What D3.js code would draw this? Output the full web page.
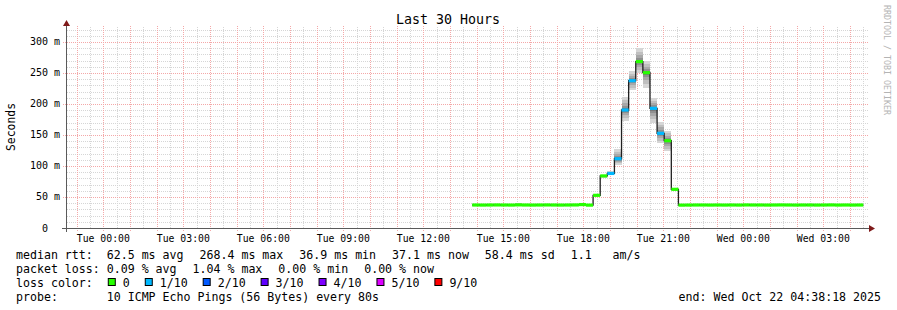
<!DOCTYPE html>
<html><head><meta charset="utf-8">
<script src="https://cdn.jsdelivr.net/npm/d3@7"></script>
<style>
html,body{margin:0;padding:0;background:#fff}
text{font-family:"DejaVu Sans Mono",monospace;white-space:pre}
</style>
</head><body>
<svg id="c" width="897" height="310"></svg>
<script>
// ---------- data ----------
const chartTitle = "Last 30 Hours";
const yAxisTitle = "Seconds";
const watermark = "RRDTOOL / TOBI OETIKER";
const startTime = "2025-10-20T22:38:18Z";
const endTime = "2025-10-22T04:38:18Z";
const dataStart = "2025-10-21T13:50:00Z";
const stepSeconds = 960;
const medianMs = [37.1,37.0,37.1,37.2,37.1,37.0,37.3,37.1,37.0,37.1,37.2,37.1,37.0,37.1,37.2,
  37.8,36.9,52.7,84.0,88.0,111.8,190.3,237.6,268.4,250.5,193.0,152.7,140.8,62.4,
  36.9,37.0,37.1,37.1,37.0,37.1,37.0,37.1,37.0,37.2,37.1,37.1,37.0,37.1,37.2,37.1,37.0,37.1,37.1,37.0,37.1,37.2,37.0,37.1,37.0,37.1];
const smokeLoMs = [36.6,36.5,36.6,36.7,36.6,36.5,36.7,36.6,36.5,36.6,36.7,36.6,36.5,36.6,36.7,
  36.9,36.5,51.5,81.0,85.0,101.6,173.0,222.6,250.0,226.0,169.0,136.6,124.0,60.0,
  36.4,36.5,36.6,36.6,36.5,36.6,36.5,36.6,36.5,36.7,36.6,36.6,36.5,36.6,36.7,36.6,36.5,36.6,36.6,36.5,36.6,36.7,36.5,36.6,36.5,36.6];
const smokeHiMs = [37.8,37.6,37.8,38.0,37.8,37.7,40.8,37.8,37.7,37.8,38.0,37.8,37.7,37.8,38.0,
  39.8,37.8,54.0,86.0,92.0,127.0,211.8,253.0,290.0,270.0,209.0,171.5,157.0,65.0,
  37.6,37.7,37.8,37.8,37.7,37.8,37.7,37.8,37.7,38.0,37.8,37.8,37.7,37.8,38.0,37.8,37.7,37.8,37.8,37.7,37.8,38.0,37.7,37.8,37.7,37.8];
const lossLevel = [0,0,0,0,0,0,0,0,0,0,0,0,0,0,0,
  0,0,0,0,1,1,1,1,0,0,1,1,0,0,
  0,0,0,0,0,0,0,0,0,0,0,0,0,0,0,0,0,0,0,0,0,0,0,0,0,0];
const yTicks = [0,50,100,150,200,250,300];
const yTickLabels = ["0  ","50 m","100 m","150 m","200 m","250 m","300 m"];
const lossLabels = ["0","1/10","2/10","3/10","4/10","5/10","9/10"];
const lossColors = ["#26ff00","#00b8ff","#0059ff","#5e00ff","#7e00ff","#dd00ff","#ff0000"];
const statsMedian = ["median rtt:  62.5 ms avg","268.4 ms max","36.9 ms min","37.1 ms now","58.4 ms sd","1.1   am/s"];
const statsLoss = ["packet loss: 0.09 % avg","1.04 % max","0.00 % min","0.00 % now"];
const lossColorTitle = "loss color:";
const probeLine = "probe:       10 ICMP Echo Pings (56 Bytes) every 80s";
const endLine = "end: Wed Oct 22 04:38:18 2025";

// ---------- layout ----------
const svg = d3.select("#c");
const X0 = 67, X1 = 867, Y0 = 228, Y1 = 28;
const x = d3.scaleUtc().domain([new Date(startTime), new Date(endTime)]).range([X0, X1]);
const y = d3.scaleLinear().domain([0, 322.58]).range([Y0, Y1]);

const MINOR = "#d6d6d6", MAJOR = "#f4a8a8";
const g = svg.append("g");

const minorY = d3.range(10, 321, 10).filter(v => v % 50 !== 0);
g.selectAll(".hmin").data(minorY).join("line")
  .attr("x1", X0).attr("x2", X1 + 1).attr("y1", d => Math.round(y(d)) + 0.5).attr("y2", d => Math.round(y(d)) + 0.5)
  .attr("stroke", MINOR).attr("stroke-dasharray", "1,1");
const t0 = new Date(startTime), t1 = new Date(endTime);
const halfHours = d3.utcMinute.every(30).range(t0, t1).filter(d => d.getUTCMinutes() === 30);
g.selectAll(".vmin").data(halfHours).join("line")
  .attr("x1", d => Math.round(x(d)) + 0.5).attr("x2", d => Math.round(x(d)) + 0.5)
  .attr("y1", Y0).attr("y2", Y1 - 2)
  .attr("stroke", MINOR).attr("stroke-dasharray", "1,1");
const hours = d3.utcHour.every(1).range(t0, t1);
g.selectAll(".vmaj").data(hours).join("line")
  .attr("x1", d => Math.round(x(d)) + 0.5).attr("x2", d => Math.round(x(d)) + 0.5)
  .attr("y1", Y0 + 3).attr("y2", Y1 - 3)
  .attr("stroke", MAJOR).attr("stroke-dasharray", "1,1");
g.selectAll(".hmaj").data(yTicks.filter(v => v > 0)).join("line")
  .attr("x1", X0 - 4).attr("x2", X1 + 2).attr("y1", d => Math.round(y(d)) + 0.5).attr("y2", d => Math.round(y(d)) + 0.5)
  .attr("stroke", MAJOR).attr("stroke-dasharray", "1,1");

// ---------- data marks ----------
const steps = medianMs.map((m, i) => {
  const a = new Date(new Date(dataStart).getTime() + i * stepSeconds * 1000);
  const b = new Date(a.getTime() + stepSeconds * 1000);
  return {a, b, m, lo: smokeLoMs[i], hi: smokeHiMs[i], loss: lossLevel[i]};
});
const smokeFracs = [0, 0.25, 0.5, 0.7, 0.85];
const smokeCols = ["#d6d6d6", "#bfbfbf", "#a8a8a8", "#909090", "#787878"];
const smoke = svg.append("g");
smokeFracs.forEach((f, k) => {
  smoke.selectAll(null).data(steps).join("rect")
    .attr("x", d => x(d.a)).attr("width", d => x(d.b) - x(d.a))
    .attr("y", d => y(d.hi - (d.hi - d.m) * f))
    .attr("height", d => Math.max(0, y(d.lo + (d.m - d.lo) * f) - y(d.hi - (d.hi - d.m) * f)))
    .attr("fill", smokeCols[k]).attr("shape-rendering", "crispEdges");
});
const linePts = steps.map(d => [d.a, d.m]).concat([[steps[steps.length - 1].b, steps[steps.length - 1].m]]);
svg.append("path")
  .attr("d", d3.line().x(d => x(d[0])).y(d => y(d[1])).curve(d3.curveStepAfter)(linePts))
  .attr("fill", "none").attr("stroke", "#202020").attr("stroke-width", 1.3);
svg.append("g").selectAll("rect").data(steps).join("rect")
  .attr("x", d => x(d.a)).attr("width", d => x(d.b) - x(d.a))
  .attr("y", d => y(d.m) - 1.6).attr("height", 3.2)
  .attr("fill", d => lossColors[d.loss]);

// ---------- axes ----------
const AX = "#5a5a5a", ARROW = "#7f1a1a";
svg.append("line").attr("x1", X0 - 0.5).attr("x2", X0 - 0.5).attr("y1", Y0 + 4).attr("y2", 24).attr("stroke", AX);
svg.append("line").attr("x1", X0 - 5).attr("x2", X1 + 3).attr("y1", Y0 + 0.5).attr("y2", Y0 + 0.5).attr("stroke", AX);
svg.append("path").attr("d", `M${X0-4},${26} L${X0+3},${26} L${X0-0.5},${20} Z`).attr("fill", ARROW);
svg.append("path").attr("d", `M${X1+2},${Y0-3} L${X1+2},${Y0+4} L${X1+8},${Y0+0.5} Z`).attr("fill", ARROW);

svg.append("g").selectAll("text").data(yTicks).join("text")
  .attr("x", 60).attr("y", d => y(d) + 3.5).attr("text-anchor", "end")
  .attr("font-size", 10).attr("fill", "#000")
  .text((d, i) => yTickLabels[i]);
const labelTicks = d3.utcHour.every(3).range(t0, t1);
const fmt = d3.utcFormat("%a %H:%M");
svg.append("g").selectAll("text").data(labelTicks).join("text")
  .attr("x", d => x(d)).attr("y", 241.5).attr("text-anchor", "middle")
  .attr("font-size", 9.8).attr("fill", "#000").text(d => fmt(d));

svg.append("text").attr("x", 448).attr("y", 24).attr("text-anchor", "middle")
  .attr("font-size", 13.3).attr("fill", "#000").text(chartTitle);
svg.append("text").attr("transform", "translate(15,127) rotate(-90)").attr("text-anchor", "middle")
  .attr("font-size", 11.4).attr("fill", "#000").text(yAxisTitle);
svg.append("text").attr("transform", "translate(884,5) rotate(90)")
  .attr("font-size", 8.3).attr("fill", "#b4b4b4").text(watermark);

// ---------- legend ----------
const FS = 11.6, GAP = 16;
function row(items, yb) {
  let cx = 16;
  items.forEach(s => {
    const t = svg.append("text").attr("x", cx).attr("y", yb).attr("font-size", FS).attr("fill", "#000").text(s);
    cx += t.node().getComputedTextLength() + GAP;
  });
}
row(statsMedian, 258.5);
row(statsLoss, 272.5);
{
  const yb = 286.5;
  const t = svg.append("text").attr("x", 16).attr("y", yb).attr("font-size", FS).text(lossColorTitle);
  let cx = 16 + t.node().getComputedTextLength() + GAP - 1;
  lossLabels.forEach((lab, i) => {
    svg.append("rect").attr("x", cx + 0.5).attr("y", 278.5).attr("width", 7).attr("height", 7)
      .attr("fill", lossColors[i]).attr("stroke", "#000").attr("stroke-width", 1);
    const tt = svg.append("text").attr("x", cx + 15).attr("y", yb).attr("font-size", FS).text(lab);
    cx += 15 + tt.node().getComputedTextLength() + GAP - 1;
  });
}
svg.append("text").attr("x", 16).attr("y", 300.5).attr("font-size", FS).text(probeLine);
svg.append("text").attr("x", 881).attr("y", 300.5).attr("text-anchor", "end").attr("font-size", FS).text(endLine);
</script>
</body></html>
